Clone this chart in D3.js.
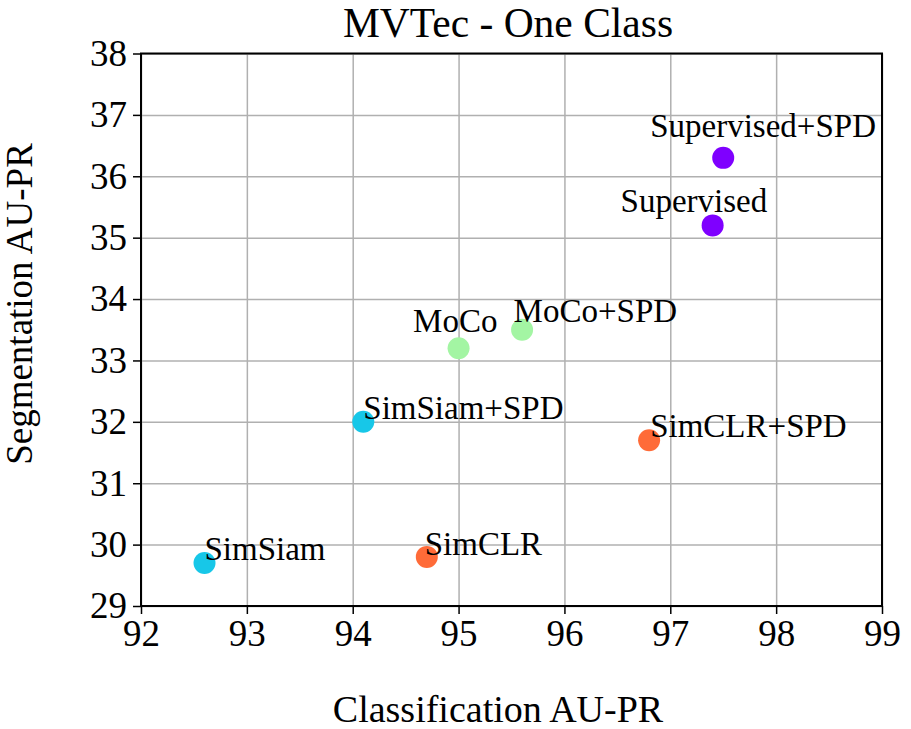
<!DOCTYPE html>
<html>
<head>
<meta charset="utf-8">
<script src="https://cdn.jsdelivr.net/npm/d3@7"></script>
<style>
  body { margin: 0; background: #fff; }
  text { font-family: "Liberation Serif", "Times New Roman", serif; fill: #000; }
  .grid line { stroke: #b0b0b0; stroke-width: 1.5; }
  .grid path { display: none; }
  .axis path { display: none; }
  .axis line { stroke: #000; stroke-width: 1.5; }
  .axis text { font-size: 37px; font-family: "Liberation Serif", "Times New Roman", serif; }
</style>
</head>
<body>
<div id="chart"></div>
<script>
// methods and their scores
var methods = ["SimSiam", "SimCLR", "SimSiam+SPD", "MoCo", "MoCo+SPD", "SimCLR+SPD", "Supervised", "Supervised+SPD"];
var classAUPR = [92.6, 94.7, 94.1, 95.0, 95.6, 96.8, 97.4, 97.5];
var segAUPR = [29.7, 29.8, 32.0, 33.2, 33.5, 31.7, 35.2, 36.3];
var family = ["SimSiam", "SimCLR", "SimSiam", "MoCo", "MoCo", "SimCLR", "Supervised", "Supervised"];

// annotation anchors, in data units (like matplotlib xytext)
var labelX = [92.6, 94.68, 94.1, 94.57, 95.52, 96.81, 96.53, 96.81];
var labelY = [29.75, 29.83, 32.05, 33.47, 33.63, 31.76, 35.42, 36.64];

var families = ["Supervised", "SimSiam", "MoCo", "SimCLR"];
var familyColors = ["#7f00ff", "#17c7e8", "#a3f5a3", "#ff6b38"];

var xTicks = [92, 93, 94, 95, 96, 97, 98, 99];
var yTicks = [29, 30, 31, 32, 33, 34, 35, 36, 37, 38];

var W = 911, H = 729;
var margins = { L: 141, R: 29, T: 53.5, B: 123 };
var width = W - margins.L - margins.R;
var height = H - margins.T - margins.B;

var xScale = d3.scaleLinear().domain([92, 99]).range([0, width]);
var yScale = d3.scaleLinear().domain([29, 38]).range([height, 0]);
var colorScale = d3.scaleOrdinal().domain(families).range(familyColors);

var svg = d3.select('#chart').append('svg')
	.attr('width', W)
	.attr('height', H);

var g = svg.append('g')
	.attr('transform', 'translate(' + margins.L + ',' + margins.T + ')');

// grid lines
g.append('g')
	.attr('class', 'grid')
	.attr('transform', 'translate(0,' + height + ')')
	.call(d3.axisBottom(xScale).tickValues(xTicks).tickSize(-height).tickFormat(''));

g.append('g')
	.attr('class', 'grid')
	.call(d3.axisLeft(yScale).tickValues(yTicks).tickSize(-width).tickFormat(''));

// axes
g.append('g')
	.attr('class', 'axis')
	.attr('transform', 'translate(0,' + height + ')')
	.call(d3.axisBottom(xScale).tickValues(xTicks).tickFormat(d3.format('d'))
		.tickSize(8).tickPadding(6).tickSizeOuter(0));

g.append('g')
	.attr('class', 'axis')
	.call(d3.axisLeft(yScale).tickValues(yTicks).tickFormat(d3.format('d'))
		.tickSize(8).tickPadding(6).tickSizeOuter(0));

// frame
g.append('rect')
	.attr('width', width)
	.attr('height', height)
	.attr('fill', 'none')
	.attr('stroke', '#000')
	.attr('stroke-width', 2);

// points
g.selectAll('.pt')
	.data(methods)
.enter().append('circle')
	.attr('class', 'pt')
	.attr('r', 11)
	.attr('cx', (d, i) => xScale(classAUPR[i]))
	.attr('cy', (d, i) => yScale(segAUPR[i]))
	.style('fill', (d, i) => colorScale(family[i]));

// labels
g.selectAll('.lbl')
	.data(methods)
.enter().append('text')
	.attr('class', 'lbl')
	.attr('x', (d, i) => xScale(labelX[i]))
	.attr('y', (d, i) => yScale(labelY[i]))
	.style('font-size', '33px')
	.text(d => d);

// title and axis titles
svg.append('text')
	.attr('x', 508)
	.attr('y', 37)
	.attr('text-anchor', 'middle')
	.style('font-size', '41.5px')
	.text('MVTec - One Class');

svg.append('text')
	.attr('x', 498)
	.attr('y', 722)
	.attr('text-anchor', 'middle')
	.style('font-size', '38px')
	.text('Classification AU-PR');

svg.append('text')
	.attr('transform', 'translate(32,304) rotate(-90)')
	.attr('text-anchor', 'middle')
	.style('font-size', '37px')
	.text('Segmentation AU-PR');
</script>
</body>
</html>
